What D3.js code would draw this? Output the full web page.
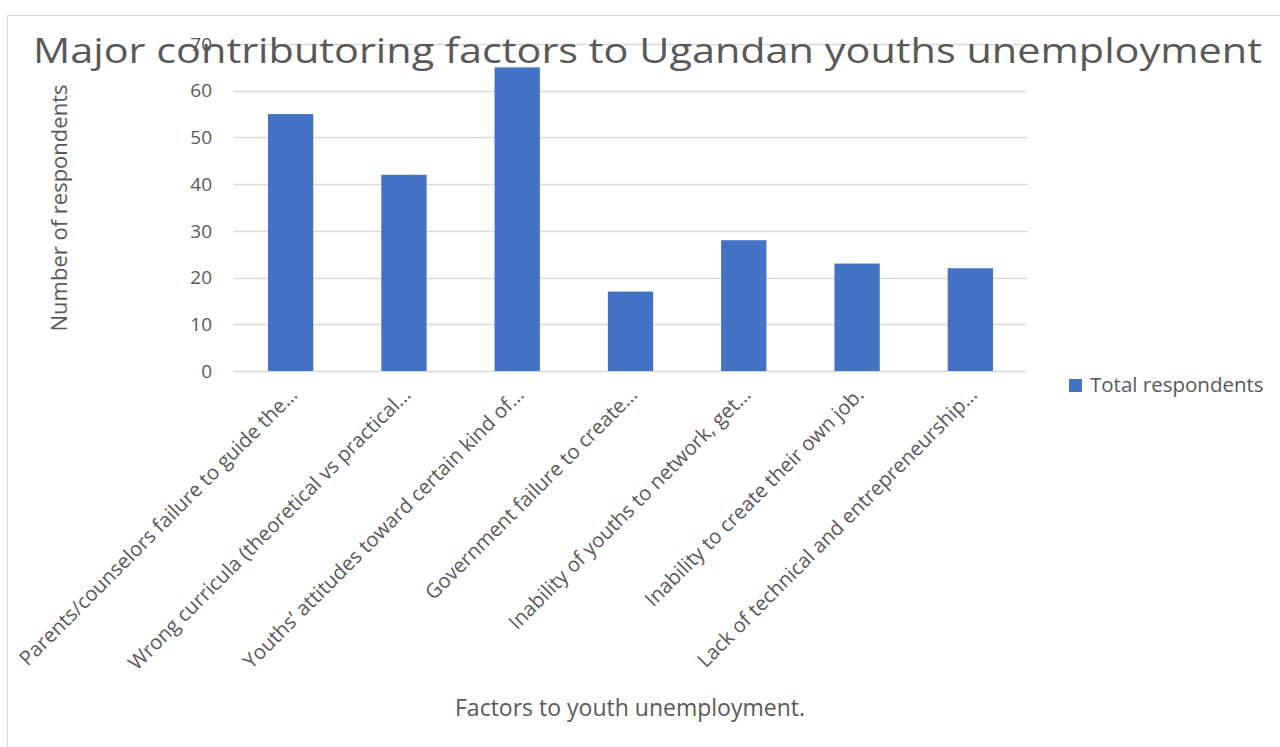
<!DOCTYPE html>
<html>
<head>
<meta charset="utf-8">
<script src="https://cdn.jsdelivr.net/npm/d3@7"></script>
<style>
  body { margin: 0; background: #fff; }
  text { font-family: "Open Sans", "Noto Sans", sans-serif; fill: #595959; }
</style>
</head>
<body>
<div id="chart"></div>
<script>
// data
const categories = [
  "Parents/counselors failure to guide the…",
  "Wrong curricula (theoretical vs practical…",
  "Youths’ attitudes toward certain kind of…",
  "Government failure to create…",
  "Inability of youths to network, get…",
  "Inability to create their own job.",
  "Lack of technical and entrepreneurship…"
];
const respondents = [55, 42, 65, 17, 28, 23, 22];
const yTicks = [0, 10, 20, 30, 40, 50, 60, 70];
const seriesName = "Total respondents";

const width = 1280;
const height = 747;
const margin = {top: 44, right: 253, bottom: 376, left: 234};

const svg = d3.select("#chart").append("svg")
    .attr("width", width)
    .attr("height", height);

// chart frame
svg.append("rect")
    .attr("x", 7.5)
    .attr("y", 15.5)
    .attr("width", width)
    .attr("height", height)
    .attr("fill", "none")
    .attr("stroke", "#d9d9d9");

const x = d3.scaleBand()
    .domain(categories)
    .range([margin.left, width - margin.right])
    .paddingInner(0.6)
    .paddingOuter(0.3);

const y = d3.scaleLinear()
    .domain([0, 70])
    .range([height - margin.bottom, margin.top]);

// gridlines
svg.append("g")
  .selectAll("line")
  .data(yTicks)
  .join("line")
    .attr("x1", margin.left)
    .attr("x2", width - margin.right)
    .attr("y1", d => Math.round(y(d)) + 0.5)
    .attr("y2", d => Math.round(y(d)) + 0.5)
    .attr("stroke", "#d9d9d9")
    .attr("stroke-width", 1.3);

// y tick labels
svg.append("g")
  .selectAll("text")
  .data(yTicks)
  .join("text")
    .attr("x", margin.left - 22)
    .attr("y", d => y(d))
    .attr("dy", "0.35em")
    .attr("text-anchor", "end")
    .style("font-size", "19px")
    .text(d => d);

// bars
svg.append("g")
  .selectAll("rect")
  .data(respondents)
  .join("rect")
    .attr("x", (d, i) => x(categories[i]))
    .attr("y", d => y(d))
    .attr("width", x.bandwidth())
    .attr("height", d => y(0) - y(d))
    .attr("fill", "#4472c4");

// x labels, rotated
svg.append("g")
  .selectAll("text")
  .data(categories)
  .join("text")
    .attr("transform", d => `translate(${x(d) + x.bandwidth() / 2 + 8},${y(0) + 25}) rotate(-45)`)
    .attr("text-anchor", "end")
    .style("font-size", "20.3px")
    .text(d => d);

// title
svg.append("text")
    .attr("x", 33)
    .attr("y", 63)
    .attr("textLength", 1229)
    .attr("lengthAdjust", "spacingAndGlyphs")
    .style("font-size", "34px")
    .text("Major contributoring factors to Ugandan youths unemployment");

// axis titles
svg.append("text")
    .attr("transform", `translate(67,208) rotate(-90)`)
    .attr("text-anchor", "middle")
    .style("font-size", "22px")
    .text("Number of respondents");

svg.append("text")
    .attr("x", 630)
    .attr("y", 716)
    .attr("text-anchor", "middle")
    .style("font-size", "23px")
    .text("Factors to youth unemployment.");

// legend
const legend = svg.append("g").attr("transform", "translate(1069,379)");
legend.append("rect")
    .attr("width", 13)
    .attr("height", 13)
    .attr("fill", "#4472c4");
legend.append("text")
    .attr("x", 21)
    .attr("y", 13)
    .style("font-size", "20.5px")
    .text(seriesName);
</script>
</body>
</html>
